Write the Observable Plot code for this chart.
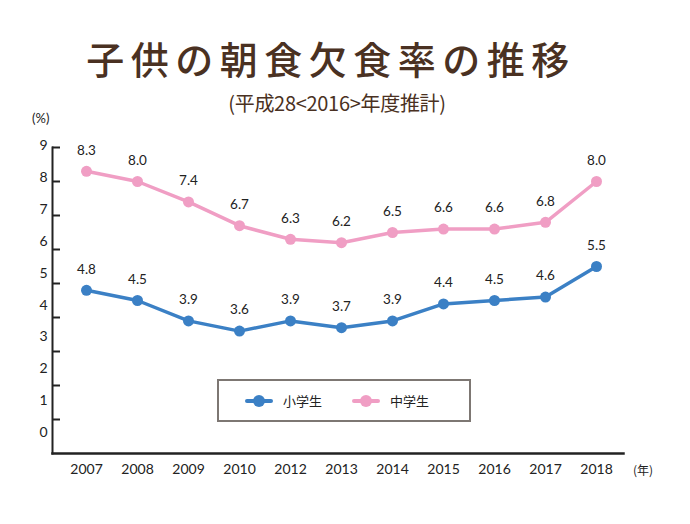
<!DOCTYPE html>
<html>
<head>
<meta charset="utf-8">
<script src="https://cdn.jsdelivr.net/npm/d3@7"></script>
<script src="https://cdn.jsdelivr.net/npm/@observablehq/plot@0.6"></script>
<style>
  html, body { margin: 0; padding: 0; background: #fff; }
  #wrap { position: relative; width: 690px; height: 524px; overflow: hidden; font-family: Lato, "Noto Sans CJK JP", sans-serif; }
  #title { position: absolute; left: 0; width: 662px; top: 39px; text-align: center;
    font-family: "Noto Sans CJK JP", sans-serif; font-weight: 500; font-size: 38px; letter-spacing: 6.5px; color: #4a3122; line-height: 1; }
  #subtitle { position: absolute; left: 0; width: 674px; top: 93px; text-align: center;
    font-family: "Noto Sans CJK JP", sans-serif; font-size: 20px; color: #4a3122; line-height: 1; letter-spacing: -0.3px; }
  #pct { position: absolute; left: 32px; top: 110px; font-size: 13px; color: #222; }
  #nen { position: absolute; left: 633px; top: 461px; font-size: 12px; color: #222; font-family: "Noto Sans CJK JP", sans-serif; }
  #chart { position: absolute; left: 0; top: 130px; }
  #legend { position: absolute; left: 217px; top: 379px; width: 250px; height: 39px; border: 2px solid #7d7773; background: #fff;
    display: flex; align-items: center; font-family: "Noto Sans CJK JP", sans-serif; font-size: 13px; color: #222; }
  .item { display: flex; align-items: center; }
  .sw { position: relative; width: 28px; height: 12px; margin-right: 10px; }
  .sw .ln { position: absolute; left: 0; right: 0; top: 4px; height: 4px; border-radius: 2px; }
  .sw .dt { position: absolute; left: 8px; top: 0; width: 12px; height: 12px; border-radius: 50%; }
</style>
</head>
<body>
<div id="wrap">
  <div id="title">子供の朝食欠食率の推移</div>
  <div id="subtitle">(平成28&lt;2016&gt;年度推計)</div>
  <div id="pct">(%)</div>
  <div id="chart"></div>
  <div id="nen">(年)</div>
  <div id="legend"></div>
</div>
<script>
// ---- data ----
const years = ["2007", "2008", "2009", "2010", "2012", "2013", "2014", "2015", "2016", "2017", "2018"];
const elementary = [4.8, 4.5, 3.9, 3.6, 3.9, 3.7, 3.9, 4.4, 4.5, 4.6, 5.5];
const juniorHigh = [8.3, 8.0, 7.4, 6.7, 6.3, 6.2, 6.5, 6.6, 6.6, 6.8, 8.0];
const seriesNames = ["小学生", "中学生"];
const seriesColors = ["#3b80c5", "#f09ec4"];
const yTicks = [1, 2, 3, 4, 5, 6, 7, 8, 9];
const yTickLabels = [0, 1, 2, 3, 4, 5, 6, 7, 8, 9];

const rows = [];
years.forEach((y, i) => {
  rows.push({year: y, value: elementary[i], series: seriesNames[0]});
  rows.push({year: y, value: juniorHigh[i], series: seriesNames[1]});
});

// In the reference, the y-axis numbers are printed on an evenly spaced column
// that is slightly compressed relative to the tick marks.
const labelPos = k => 0.62 + 0.936 * k;

const chart = Plot.plot({
  width: 690,
  height: 394,
  marginLeft: 52,
  marginRight: 67,
  marginTop: 17,
  marginBottom: 71,
  insetLeft: 33,
  insetRight: 26,
  style: {fontFamily: "Lato, 'Noto Sans CJK JP', sans-serif", fontSize: "14px", color: "#222", background: "transparent"},
  x: {type: "point", domain: years, padding: 0, label: null},
  y: {domain: [0, 9], label: null},
  color: {domain: seriesNames, range: seriesColors},
  marks: [
    Plot.axisX({tickSize: 0, tickPadding: 11, fontSize: 14, label: null}),
    Plot.axisY(yTicks, {tickSize: -8, strokeWidth: 2, stroke: "#222", tickFormat: () => "", label: null}),
    Plot.text(yTickLabels, {y: d => labelPos(d), text: d => String(d), frameAnchor: "left", dx: -5, textAnchor: "end", fontSize: 14, fill: "#222"}),
    Plot.frame({anchor: "left", stroke: "#222", strokeWidth: 2}),
    Plot.frame({anchor: "bottom", stroke: "#222", strokeWidth: 2.5}),
    Plot.line(rows, {x: "year", y: "value", z: "series", stroke: "series", strokeWidth: 3.5}),
    Plot.dot(rows, {x: "year", y: "value", fill: "series", r: 5.5}),
    Plot.text(rows, {x: "year", y: "value", text: d => d.value.toFixed(1), dy: -21, fontSize: 13.5, fill: "#222"})
  ]
});
document.getElementById("chart").appendChild(chart);

// legend
const lg = document.getElementById("legend");
seriesNames.forEach((name, i) => {
  const item = document.createElement("div");
  item.className = "item";
  item.style.marginLeft = i === 0 ? "26px" : "30px";
  item.innerHTML = `<div class="sw"><div class="ln" style="background:${seriesColors[i]}"></div><div class="dt" style="background:${seriesColors[i]}"></div></div><span>${name}</span>`;
  lg.appendChild(item);
});
</script>
</body>
</html>
